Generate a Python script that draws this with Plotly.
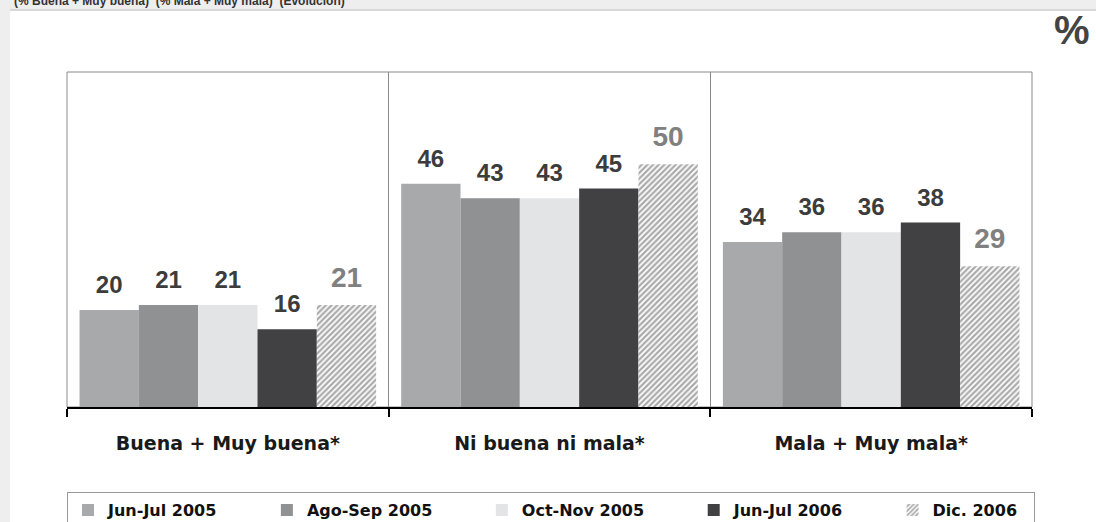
import plotly.graph_objects as go

categories = ["Buena + Muy buena*", "Ni buena ni mala*", "Mala + Muy mala*"]
series_names = ["Jun-Jul 2005", "Ago-Sep 2005", "Oct-Nov 2005", "Jun-Jul 2006", "Dic. 2006"]
jun_jul_2005 = [20, 46, 34]
ago_sep_2005 = [21, 43, 36]
oct_nov_2005 = [21, 43, 36]
jun_jul_2006 = [16, 45, 38]
dic_2006 = [21, 50, 29]
series_values = [jun_jul_2005, ago_sep_2005, oct_nov_2005, jun_jul_2006, dic_2006]
colors = ["#a8a9ab", "#8f9193", "#e3e4e6", "#414143", "#ffffff"]

PAD = "\u00a0" * 8
PAD_LAST = "\u00a0" * 2

fig = go.Figure()

for i, (name, vals, col) in enumerate(zip(series_names, series_values, colors)):
    last = name == "Dic. 2006"
    if last:
        marker = dict(color="white",
                      pattern=dict(shape="/", fgcolor="#555555", bgcolor="white", size=4, solidity=0.55),
                      line=dict(width=0))
    else:
        marker = dict(color=col, line=dict(width=0))
    fig.add_trace(go.Bar(x=categories, y=vals, name=name + (PAD_LAST if last else PAD),
                         marker=marker, offsetgroup=str(i), hoverinfo="skip"))

for i, (name, vals) in enumerate(zip(series_names, series_values)):
    last = name == "Dic. 2006"
    fig.add_trace(go.Scatter(
        x=categories, y=vals, mode="markers+text",
        text=[str(v) for v in vals], textposition="top center",
        textfont=dict(family="Liberation Sans", size=28 if last else 24,
                      color="#808080" if last else "#3c3c3c", weight="bold"),
        marker=dict(size=16, opacity=0),
        offsetgroup=str(i), showlegend=False, hoverinfo="skip"))

fig.update_layout(
    width=1096, height=522,
    margin=dict(l=67, r=64, t=72, b=115, autoexpand=False),
    paper_bgcolor="#eeeeee", plot_bgcolor="white",
    barmode="group", bargap=0.078, bargroupgap=0,
    scattermode="group", scattergap=0.078,
    showlegend=True,
    legend=dict(orientation="h", x=0, xanchor="left", y=-0.254, yanchor="top",
                bordercolor="#9a9a9a", borderwidth=1, bgcolor="white",
                font=dict(family="DejaVu Sans", size=16, color="#111111", weight="bold"),
                itemwidth=30, traceorder="normal"),
    xaxis=dict(type="category", tickson="boundaries", ticks="outside", ticklen=8,
               tickwidth=2, tickcolor="black", showline=True, linecolor="black",
               linewidth=2, showgrid=True, gridcolor="#8a8a8a", gridwidth=1,
               tickfont=dict(family="DejaVu Sans", size=19, color="#1a1a1a", weight="bold"),
               ticklabelstandoff=18, range=[-0.5, 2.5]),
    yaxis=dict(range=[0, 69], visible=False, showgrid=False),
    shapes=[
        dict(type="rect", xref="paper", yref="paper", x0=-0.059, x1=1.2, y0=-0.6, y1=1.185,
             fillcolor="white", line=dict(width=0), layer="below"),
        dict(type="line", xref="paper", yref="paper", x0=-0.059, x1=1.2, y0=1.185, y1=1.185,
             line=dict(color="#d8d8d8", width=2), layer="below"),
        dict(type="rect", xref="paper", yref="paper", x0=0, x1=1, y0=0, y1=1,
             line=dict(color="#8a8a8a", width=1), layer="below"),
    ],
    annotations=[
        dict(text="%", xref="paper", yref="paper", x=1.041, y=1.125, xanchor="center",
             yanchor="middle", showarrow=False,
             font=dict(family="Liberation Sans", size=40, color="#444444", weight="bold")),
        dict(text="(% Buena + Muy buena)  (% Mala + Muy mala)  (Evolución)", xref="paper",
             yref="paper", x=-0.057, y=1.212, xanchor="left", yanchor="middle", showarrow=False,
             font=dict(family="Liberation Sans", size=12, color="#333333", weight="bold")),
    ],
)

fig.write_html("out.html", config={"displayModeBar": False},
               post_script="document.body.style.margin='0px';document.body.style.overflow='hidden';")
